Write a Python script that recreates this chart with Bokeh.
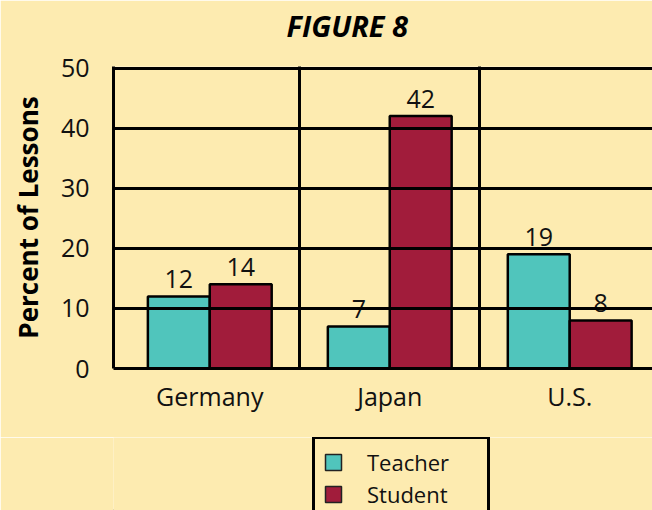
from bokeh.plotting import figure
from bokeh.layouts import column
from bokeh.models import ColumnDataSource, FixedTicker, Legend, LegendItem, Range1d, Title
from bokeh.core.properties import value
from bokeh.embed import file_html
from bokeh.resources import INLINE
import numpy as np

countries = ["Germany", "Japan", "U.S."]
teacher = [12, 7, 19]
student = [14, 42, 8]
y_ticks = [0, 10, 20, 30, 40, 50]
series_names = ["Teacher", "Student"]

BG = "#FDEBB0"
TEAL = "#50C5BC"
MAROON = "#A11C3B"
FONT = "Open Sans"

bar_w = 0.344
centers = np.arange(len(countries)) + 0.5

src_t = ColumnDataSource(dict(x=centers - bar_w / 2, top=teacher, lab=[str(v) for v in teacher]))
src_s = ColumnDataSource(dict(x=centers + bar_w / 2, top=student, lab=[str(v) for v in student]))

p = figure(width=652, height=437, output_backend="svg", toolbar_location=None,
           x_range=Range1d(-0.035, 2.96), y_range=Range1d(0, 50.25),
           min_border_left=113, min_border_right=0, min_border_top=66, min_border_bottom=69)

p.background_fill_color = BG
p.border_fill_color = BG
p.outline_line_color = None

p.vbar(x="x", top="top", width=bar_w, source=src_t, fill_color=TEAL,
       line_color="black", line_width=2.5)
p.vbar(x="x", top="top", width=bar_w, source=src_s, fill_color=MAROON,
       line_color="black", line_width=2.5)

for src in (src_t, src_s):
    p.text(x="x", y="top", text="lab", source=src, text_align="center",
           text_baseline="bottom", y_offset=-8, text_font=value(FONT),
           text_font_size="25px", text_color="#111111")

# title (with an empty spacer title between it and the frame)
p.title.text = "FIGURE 8"
p.title.text_font = FONT
p.title.text_font_style = "bold italic"
p.title.text_font_size = "29px"
p.title.align = "left"
p.title.offset = 173
p.title.standoff = 0
p.title.text_color = "black"
p.add_layout(Title(text=" ", text_font_size="18px", standoff=0), "above")

# axes
p.yaxis.ticker = FixedTicker(ticks=y_ticks)
p.yaxis.axis_label = "Percent of Lessons"
p.yaxis.axis_label_text_font = FONT
p.yaxis.axis_label_text_font_style = "bold"
p.yaxis.axis_label_text_font_size = "26px"
p.yaxis.axis_label_text_color = "black"
p.yaxis.axis_label_standoff = 12
p.yaxis.major_label_text_font = FONT
p.yaxis.major_label_text_font_size = "25px"
p.yaxis.major_label_text_color = "#111111"
p.yaxis.major_label_standoff = 18
p.yaxis.major_tick_line_color = None
p.yaxis.minor_tick_line_color = None
p.yaxis.axis_line_color = "black"
p.yaxis.axis_line_width = 3

p.xaxis.ticker = FixedTicker(ticks=list(centers))
p.xaxis.major_label_overrides = {float(c): n for c, n in zip(centers, countries)}
p.xaxis.major_label_text_font = FONT
p.xaxis.major_label_text_font_size = "25px"
p.xaxis.major_label_text_color = "#111111"
p.xaxis.major_label_standoff = 4
p.xaxis.major_tick_line_color = None
p.xaxis.minor_tick_line_color = None
p.xaxis.axis_line_color = "black"
p.xaxis.axis_line_width = 3

# grid lines on top of bars
p.ygrid.ticker = FixedTicker(ticks=y_ticks[1:])
p.ygrid.grid_line_color = "black"
p.ygrid.grid_line_width = 3
p.ygrid.level = "overlay"
p.xgrid.ticker = FixedTicker(ticks=[1, 2])
p.xgrid.grid_line_color = "black"
p.xgrid.grid_line_width = 3
p.xgrid.level = "overlay"

# legend strip below the chart
q = figure(width=652, height=73, output_backend="svg", toolbar_location=None,
           x_axis_type=None, y_axis_type=None, x_range=Range1d(0, 1), y_range=Range1d(0, 1),
           min_border_left=113, min_border_right=0, min_border_top=0, min_border_bottom=0)
q.background_fill_color = BG
q.border_fill_color = BG
q.outline_line_color = None
q.grid.visible = False
lr_t = q.vbar(x=[-5], top=[0], width=0.1, fill_color=TEAL, line_color="#222222", line_width=1.5)
lr_s = q.vbar(x=[-5], top=[0], width=0.1, fill_color=MAROON, line_color="#222222", line_width=1.5)

legend = Legend(items=[LegendItem(label=series_names[0], renderers=[lr_t]),
                       LegendItem(label=series_names[1], renderers=[lr_s])],
                location=(199, -10))
legend.border_line_color = "black"
legend.border_line_alpha = 1.0
legend.border_line_width = 3
legend.background_fill_color = BG
legend.background_fill_alpha = 1
legend.label_text_font = FONT
legend.label_text_font_size = "22px"
legend.label_text_color = "#111111"
legend.glyph_width = 20
legend.glyph_height = 20
legend.label_height = 28
legend.label_width = 112
legend.spacing = 2
legend.padding = 8
legend.margin = 0
legend.label_standoff = 24
q.add_layout(legend, "center")

html = file_html(column(p, q, spacing=0), INLINE)
open("out.html", "w").write(html.replace("<body>", '<body style="background-color:#FDEBB0;">', 1))
